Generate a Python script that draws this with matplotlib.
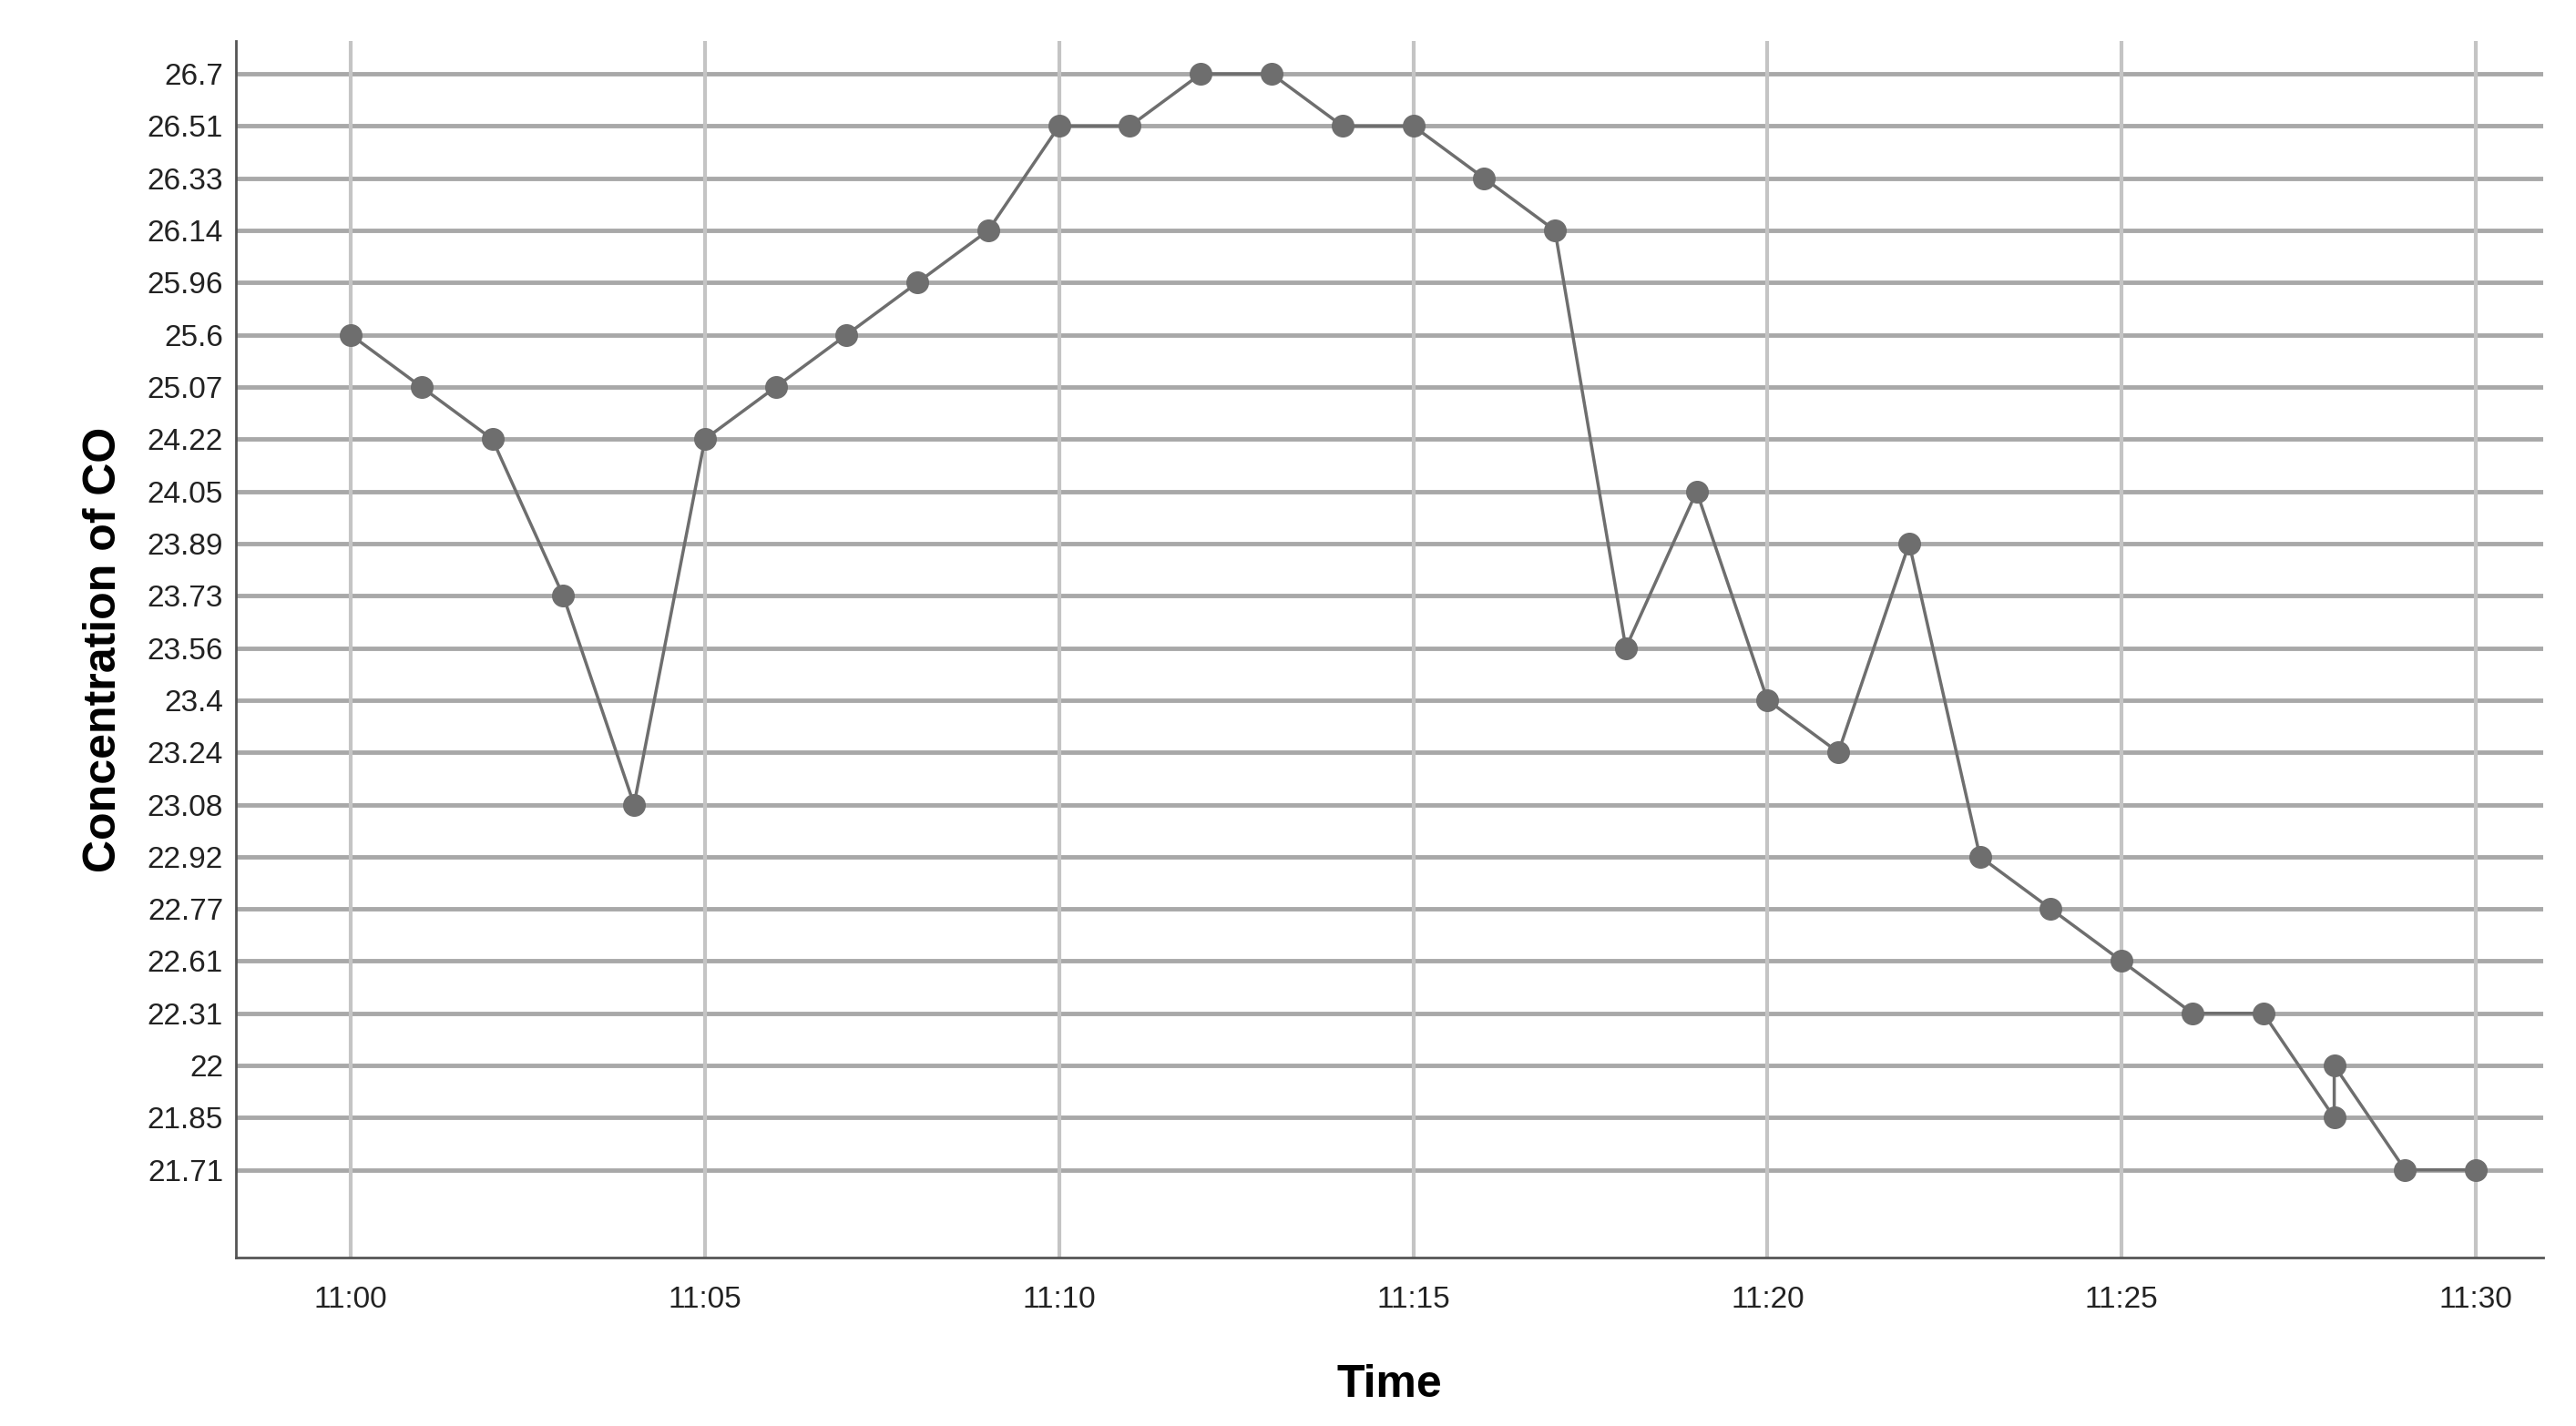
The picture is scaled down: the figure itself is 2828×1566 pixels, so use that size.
import matplotlib
matplotlib.use("Agg")
import matplotlib.pyplot as plt

plt.rcParams['font.family'] = ['Liberation Sans', 'DejaVu Sans']

levels = ["21.71","21.85","22","22.31","22.61","22.77","22.92","23.08","23.24","23.4",
          "23.56","23.73","23.89","24.05","24.22","25.07","25.6","25.96","26.14","26.33","26.51","26.7"]
minutes = [0,1,2,3,4,5,6,7,8,9,10,11,12,13,14,15,16,17,18,19,20,21,22,23,24,25,26,27,28,28,29,30]
values = ["25.6","25.07","24.22","23.73","23.08","24.22","25.07","25.6","25.96","26.14","26.51","26.51",
          "26.7","26.7","26.51","26.51","26.33","26.14","23.56","24.05","23.4","23.24","23.89","22.92",
          "22.77","22.61","22.31","22.31","21.85","22","21.71","21.71"]
xticks = [0,5,10,15,20,25,30]
xlabels = ["11:00","11:05","11:10","11:15","11:20","11:25","11:30"]

fig = plt.figure(figsize=(28.28,15.66), dpi=100)
ax = fig.add_axes([259/2828, 1-1381/1566, (2792-259)/2828, (1381-45)/1566])
y = [levels.index(v) for v in values]
ax.set_yticks(range(len(levels)))
ax.set_yticklabels(levels)
ax.set_xticks(xticks)
ax.set_xticklabels(xlabels)
for i in range(len(levels)):
    ax.axhline(i, color="#a8a8a8", lw=3.5, zorder=1)
for t in xticks:
    ax.axvline(t, color="#c4c4c4", lw=3, zorder=1)
ax.plot(minutes, y, color="#6e6e6e", lw=2.5, marker="o", ms=17, mfc="#6e6e6e", mec="#6e6e6e", zorder=3)
ax.set_xlim(-1.62, 30.95)
ax.set_ylim(-1.68, 21.63)
for s in ["top","right"]:
    ax.spines[s].set_visible(False)
for s in ["left","bottom"]:
    ax.spines[s].set_color("#555555")
    ax.spines[s].set_linewidth(2)
ax.tick_params(labelsize=24, length=0, pad=10, colors="#222222")
ax.tick_params(axis="x", pad=22)
ax.set_xlabel("Time", fontsize=36, fontweight="bold", labelpad=40)
ax.set_ylabel("Concentration of CO", fontsize=36, fontweight="bold", labelpad=18)
fig.savefig("out.png", dpi=100, facecolor="white")
